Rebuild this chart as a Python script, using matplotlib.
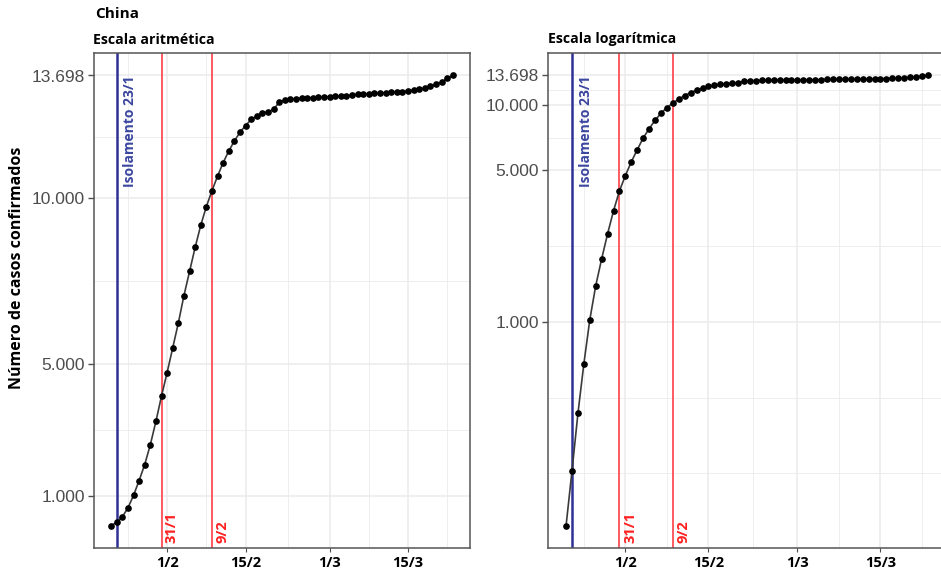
import numpy as np
import pandas as pd
import matplotlib
matplotlib.use("Agg")
import matplotlib.pyplot as plt
import matplotlib.dates as mdates

# Casos confirmados - China
start_date = "2020-01-22"
cases = [115, 206, 379, 642, 1024, 1470, 1955, 2552, 3258, 4024,
         4733, 5479, 6227, 7055, 7782, 8509, 9176, 9742, 10218, 10661,
         11067, 11418, 11721, 11985, 12188, 12370, 12479, 12570, 12600, 12673,
         12894, 12945, 12980, 13000, 13010, 13020, 13030, 13040, 13050, 13060,
         13070, 13080, 13090, 13110, 13130, 13140, 13150, 13160, 13170, 13180,
         13190, 13200, 13210, 13240, 13260, 13290, 13320, 13370, 13430, 13500,
         13610, 13698]

y_ticks = [1000, 5000, 10000, 13698]
y_labels = ["1.000", "5.000", "10.000", "13.698"]
x_ticks = ["2020-02-01", "2020-02-15", "2020-03-01", "2020-03-15"]
x_labels = ["1/2", "15/2", "1/3", "15/3"]

lockdown_date = "2020-01-23"
lockdown_label = "Isolamento 23/1"
red_dates = ["2020-01-31", "2020-02-09"]
red_labels = ["31/1", "9/2"]

BOLD = ["Open Sans", "DejaVu Sans"]
GRID = "#EBEBEB"

dates = pd.date_range(start_date, periods=len(cases), freq="D")
x = mdates.date2num(dates)
xt = mdates.date2num(pd.to_datetime(x_ticks))
xr = mdates.date2num(pd.to_datetime(red_dates))
xl = mdates.date2num(pd.to_datetime(lockdown_date))

# minor grid entre os ticks (estilo ggplot)
step = xt[1] - xt[0]
xt_ext = np.concatenate([[xt[0] - step], xt, [xt[-1] + step]])
x_minor = (xt_ext[:-1] + xt_ext[1:]) / 2

fig = plt.figure(figsize=(9.41, 5.73), dpi=100)

def setup(ax, log):
    y = np.array(cases, dtype=float)
    span = x[-1] - x[0]
    ax.set_xlim(x[0] - 0.05 * span, x[-1] + 0.05 * span)
    yt = np.array(y_ticks, dtype=float)
    if log:
        ax.set_yscale("log")
        ly = np.log10(y)
        r = ly.max() - ly.min()
        ax.set_ylim(10 ** (ly.min() - 0.05 * r), 10 ** (ly.max() + 0.05 * r))
        lt = np.log10(yt)
        lt_ext = np.concatenate([[lt[0] - (lt[1] - lt[0])], lt])
        y_minor = 10 ** ((lt_ext[:-1] + lt_ext[1:]) / 2)
        y_minor = np.concatenate([[10 ** lt_ext[0]], y_minor])
    else:
        r = y.max() - y.min()
        ax.set_ylim(y.min() - 0.05 * r, y.max() + 0.05 * r)
        y_minor = (yt[:-1] + yt[1:]) / 2

    for v in x_minor:
        ax.axvline(v, color=GRID, lw=0.6, zorder=0)
    for v in xt:
        ax.axvline(v, color=GRID, lw=1.1, zorder=0)
    for v in y_minor:
        ax.axhline(v, color=GRID, lw=0.6, zorder=0)
    for v in yt:
        ax.axhline(v, color=GRID, lw=1.1, zorder=0)

    ax.set_yticks(y_ticks)
    ax.set_yticklabels(y_labels)
    ax.yaxis.set_minor_locator(matplotlib.ticker.NullLocator())
    ax.set_xticks(xt)
    ax.set_xticklabels(x_labels, fontfamily=BOLD, fontweight="bold", fontsize=10.5)
    ax.tick_params(axis="y", labelsize=12.5, labelcolor="#4D4D4D", color="#4D4D4D",
                   length=4.5, width=1, pad=2)
    ax.tick_params(axis="x", color="#4D4D4D", length=3, width=0.8, pad=3)
    for t in ax.get_yticklabels():
        t.set_fontfamily(["Liberation Sans", "DejaVu Sans"])
    for s in ax.spines.values():
        s.set_color("#555555")
        s.set_linewidth(1.1)

    # linhas de eventos
    ax.axvline(xl, color="#2E3192", lw=1.8, zorder=2)
    ax.text(xl + 2.3, cases[-1], lockdown_label, rotation=90, ha="center", va="top",
            color="#3B46A0", fontfamily=BOLD, fontweight="bold", fontsize=10, zorder=3)
    for xv, lab in zip(xr, red_labels):
        ax.axvline(xv, color="#FF4D55", lw=1.3, zorder=2)
        ax.text(xv + 1.8, 0.01, lab, rotation=90, ha="center", va="bottom",
                color="#FF2020", fontfamily=BOLD, fontweight="bold", fontsize=10.5,
                transform=ax.get_xaxis_transform(), zorder=3)

    ax.plot(x, cases, color="#3A3A3A", lw=1.2, zorder=4)
    ax.plot(x, cases, "o", color="black", ms=3.8, zorder=5)

ax1 = fig.add_axes([94 / 941, 25 / 573, 376 / 941, 495 / 573])
setup(ax1, log=False)
ax2 = fig.add_axes([548 / 941, 25 / 573, 398 / 941, 495 / 573])
setup(ax2, log=True)

fig.text(95 / 941, 1 - 18.5 / 573, "China", fontfamily=BOLD, fontweight="bold",
         fontsize=11, va="baseline", ha="left")
fig.text(93 / 941, 1 - 43.5 / 573, "Escala aritmética", fontfamily=BOLD,
         fontweight="bold", fontsize=10.2, va="baseline", ha="left")
fig.text(548 / 941, 1 - 43.5 / 573, "Escala logarítmica", fontfamily=BOLD,
         fontweight="bold", fontsize=10.2, va="baseline", ha="left")
fig.text(17.5 / 941, 1 - 268 / 573, "Número de casos confirmados", rotation=90,
         fontfamily=BOLD, fontweight="bold", fontsize=11.5, va="center", ha="center")

fig.savefig("out.png", dpi=100)
